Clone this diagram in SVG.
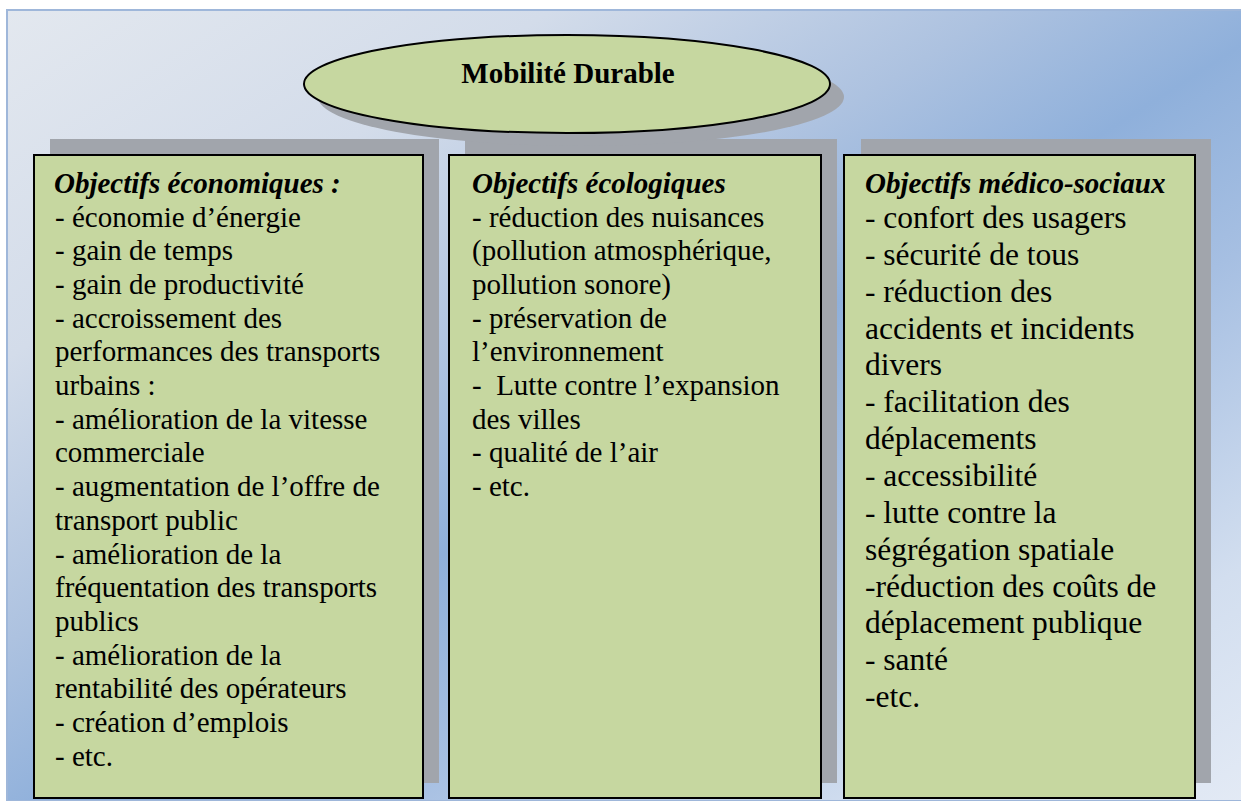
<svg xmlns="http://www.w3.org/2000/svg" width="1241" height="801" viewBox="0 0 1241 801">
<defs>
<linearGradient id="bg" x1="0" y1="0" x2="1" y2="1">
<stop offset="0" stop-color="#e3e8ef"/>
<stop offset="0.22" stop-color="#d3dcea"/>
<stop offset="0.4" stop-color="#adc2e0"/>
<stop offset="0.52" stop-color="#8fb0db"/>
<stop offset="0.65" stop-color="#a6bfe2"/>
<stop offset="0.85" stop-color="#d2deef"/>
<stop offset="1" stop-color="#e3eaf5"/>
</linearGradient>
<style>
.box{fill:#c6d7a0;stroke:#000;stroke-width:2}
.sh{fill:#a1a5ac}
.t{font-family:"Liberation Serif","Times New Roman",serif;fill:#000}
.b1{font-size:29px}
.b3{font-size:31.5px}
.h{font-size:29px;font-weight:bold;font-style:italic}
</style>
</defs>
<rect x="0" y="0" width="1241" height="801" fill="#ffffff"/>
<rect x="7" y="10" width="1240" height="791" fill="url(#bg)" stroke="#9fb7da" stroke-width="2"/>

<g id="shadows">
<rect class="sh" x="50" y="139" width="389" height="644"/>
<rect class="sh" x="465" y="139" width="372" height="644"/>
<rect class="sh" x="861" y="139" width="350" height="644"/>
<ellipse class="sh" cx="581" cy="97" rx="263" ry="49"/>
</g>

<g id="connectors"/>

<g id="node-mobilite">
<ellipse cx="567" cy="84" rx="263" ry="49" fill="#c6d7a0" stroke="#000" stroke-width="2"/>
<text class="t" x="568" y="83" font-size="29" font-weight="bold" text-anchor="middle">Mobilité Durable</text>
</g>

<g id="node-economiques">
<rect class="box" x="34" y="155" width="389" height="643"/>
<text class="t b1">
<tspan class="h" x="54" y="193">Objectifs économiques :</tspan>
<tspan x="55" y="226.5">- économie d’énergie</tspan>
<tspan x="55" y="260.2">- gain de temps</tspan>
<tspan x="55" y="293.9">- gain de productivité</tspan>
<tspan x="55" y="327.6">- accroissement des</tspan>
<tspan x="55" y="361.3">performances des transports</tspan>
<tspan x="55" y="395">urbains :</tspan>
<tspan x="55" y="428.7">- amélioration de la vitesse</tspan>
<tspan x="55" y="462.4">commerciale</tspan>
<tspan x="55" y="496.1">- augmentation de l’offre de</tspan>
<tspan x="55" y="529.8">transport public</tspan>
<tspan x="55" y="563.5">- amélioration de la</tspan>
<tspan x="55" y="597.2">fréquentation des transports</tspan>
<tspan x="55" y="630.9">publics</tspan>
<tspan x="55" y="664.6">- amélioration de la</tspan>
<tspan x="55" y="698.3">rentabilité des opérateurs</tspan>
<tspan x="55" y="732">- création d’emplois</tspan>
<tspan x="55" y="765.7">- etc.</tspan>
</text>
</g>

<g id="node-ecologiques">
<rect class="box" x="449" y="155" width="372" height="643"/>
<text class="t b1" xml:space="preserve">
<tspan class="h" x="472" y="193">Objectifs écologiques</tspan>
<tspan x="472" y="226.5">- réduction des nuisances</tspan>
<tspan x="472" y="260.2">(pollution atmosphérique,</tspan>
<tspan x="472" y="293.9">pollution sonore)</tspan>
<tspan x="472" y="327.6">- préservation de</tspan>
<tspan x="472" y="361.3">l’environnement</tspan>
<tspan x="472" y="395">-  Lutte contre l’expansion</tspan>
<tspan x="472" y="428.7">des villes</tspan>
<tspan x="472" y="462.4">- qualité de l’air</tspan>
<tspan x="472" y="496.1">- etc.</tspan>
</text>
</g>

<g id="node-medico-sociaux">
<rect class="box" x="844" y="155" width="351" height="643"/>
<text class="t b3">
<tspan class="h" x="865" y="193">Objectifs médico-sociaux</tspan>
<tspan x="865" y="228">- confort des usagers</tspan>
<tspan x="865" y="264.85">- sécurité de tous</tspan>
<tspan x="865" y="301.7">- réduction des</tspan>
<tspan x="865" y="338.55">accidents et incidents</tspan>
<tspan x="865" y="375.4">divers</tspan>
<tspan x="865" y="412.25">- facilitation des</tspan>
<tspan x="865" y="449.1">déplacements</tspan>
<tspan x="865" y="485.95">- accessibilité</tspan>
<tspan x="865" y="522.8">- lutte contre la</tspan>
<tspan x="865" y="559.65">ségrégation spatiale</tspan>
<tspan x="865" y="596.5">-réduction des coûts de</tspan>
<tspan x="865" y="633.35">déplacement publique</tspan>
<tspan x="865" y="670.2">- santé</tspan>
<tspan x="865" y="707">-etc.</tspan>
</text>
</g>
</svg>
